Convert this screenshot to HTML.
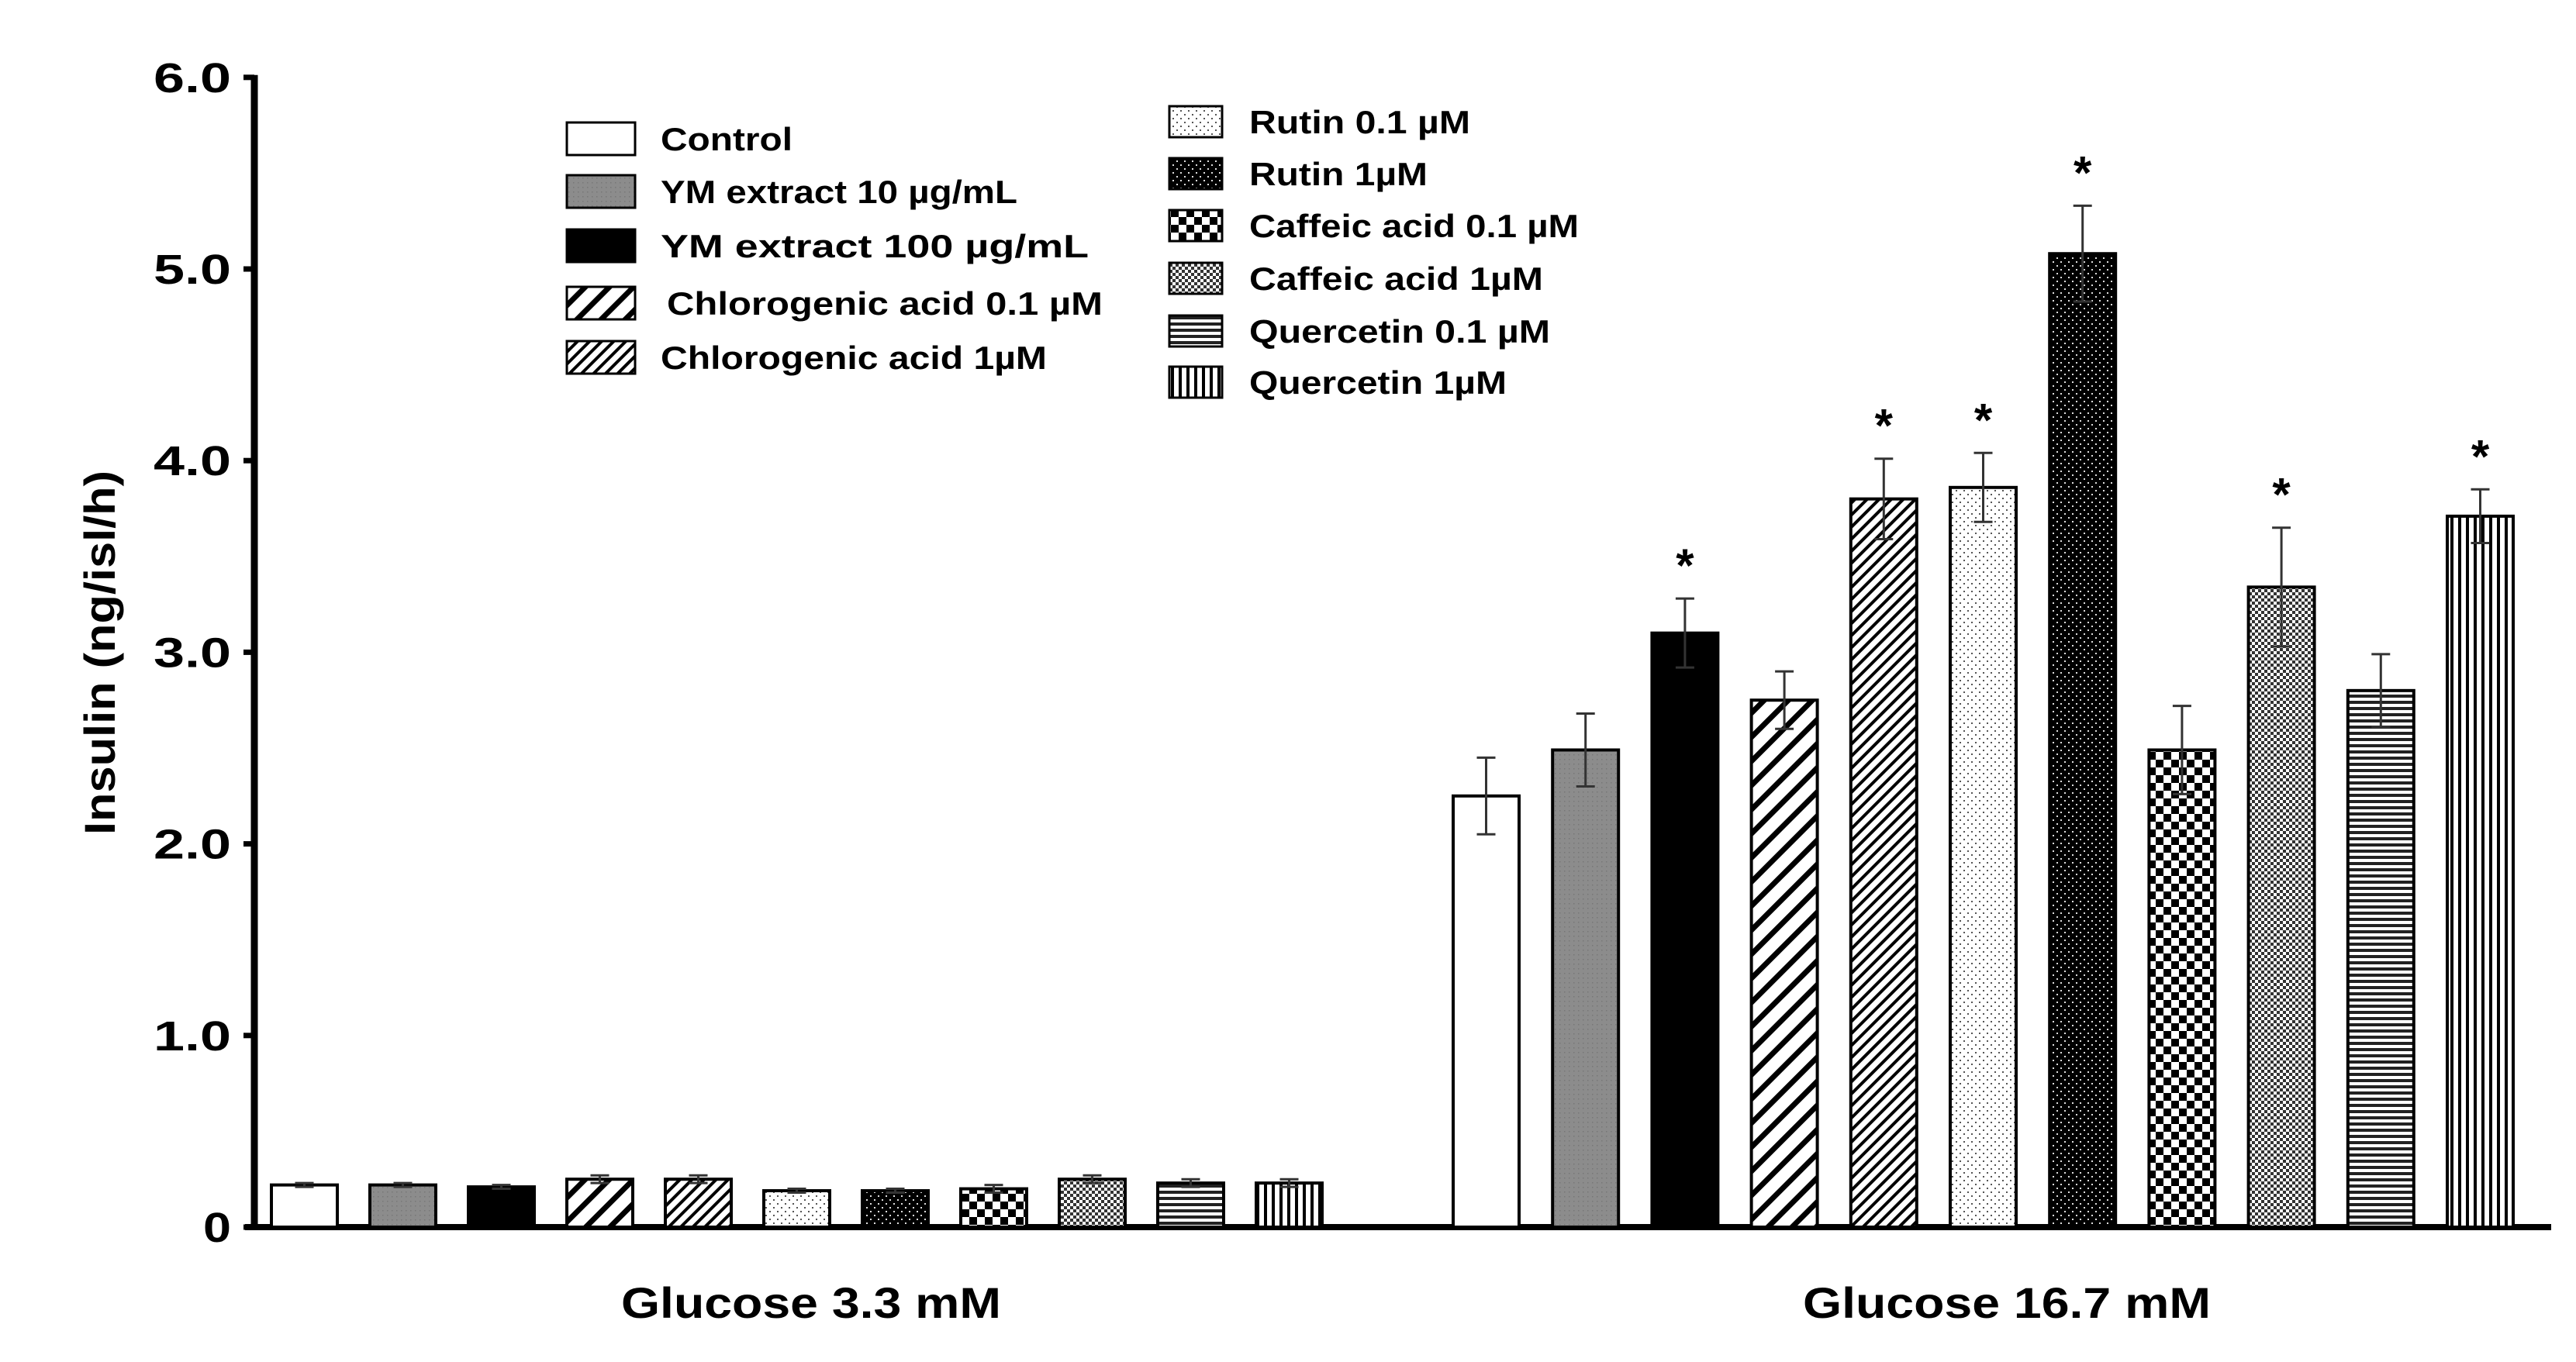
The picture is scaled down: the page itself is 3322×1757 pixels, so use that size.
<!DOCTYPE html>
<html><head><meta charset="utf-8"><style>
html,body{margin:0;padding:0;background:#fff;}
svg{display:block;font-family:"Liberation Sans",Arial,sans-serif;font-weight:bold;}
</style></head><body>
<svg id="chart" width="3322" height="1757" viewBox="0 0 3322 1757">
<defs>
<pattern id="p0" width="10" height="10" patternUnits="userSpaceOnUse"><rect width="10" height="10" fill="#fff"/></pattern>
<pattern id="p1" width="6" height="6" patternUnits="userSpaceOnUse"><rect width="6" height="6" fill="#8c8c8c"/><rect x="1" y="1" width="1.5" height="1.5" fill="#777"/></pattern>
<pattern id="p2" width="10" height="10" patternUnits="userSpaceOnUse"><rect width="10" height="10" fill="#000"/></pattern>
<pattern id="p3" width="22" height="22" patternUnits="userSpaceOnUse" patternTransform="rotate(45)"><rect width="22" height="22" fill="#fff"/><rect width="7" height="22" fill="#000"/></pattern>
<pattern id="p4" width="11" height="11" patternUnits="userSpaceOnUse" patternTransform="rotate(45)"><rect width="11" height="11" fill="#fff"/><rect width="4" height="11" fill="#000"/></pattern>
<pattern id="p5" width="10" height="10" patternUnits="userSpaceOnUse"><rect width="10" height="10" fill="#fff"/><rect x="2" y="2" width="2" height="2" fill="#555"/><rect x="7" y="7" width="2" height="2" fill="#555"/></pattern>
<pattern id="p6" width="10" height="10" patternUnits="userSpaceOnUse"><rect width="10" height="10" fill="#000"/><rect x="2" y="2" width="2" height="2" fill="#ddd"/><rect x="7" y="7" width="2" height="2" fill="#ddd"/></pattern>
<pattern id="p7" width="20" height="20" patternUnits="userSpaceOnUse"><rect width="20" height="20" fill="#fff"/><rect width="10" height="10" fill="#000"/><rect x="10" y="10" width="10" height="10" fill="#000"/></pattern>
<pattern id="p8" width="8" height="8" patternUnits="userSpaceOnUse"><rect width="8" height="8" fill="#fff"/><rect width="4" height="4" fill="#333"/><rect x="4" y="4" width="4" height="4" fill="#333"/></pattern>
<pattern id="p9" width="8" height="8" patternUnits="userSpaceOnUse"><rect width="8" height="8" fill="#fff"/><rect width="8" height="4" fill="#222"/></pattern>
<pattern id="p10" width="10" height="10" patternUnits="userSpaceOnUse"><rect width="10" height="10" fill="#fff"/><rect width="4" height="10" fill="#000"/></pattern>
</defs>
<g id="axes"></g>
<g id="bars"></g>
<g id="legend"></g>
</svg>
<script>
const categories = ["Control","YM extract 10 µg/mL","YM extract 100 µg/mL","Chlorogenic acid  0.1 µM","Chlorogenic acid 1µM","Rutin 0.1 µM","Rutin 1µM","Caffeic acid 0.1 µM","Caffeic acid 1µM","Quercetin 0.1 µM","Quercetin 1µM"];
const groups = ["Glucose 3.3 mM","Glucose 16.7 mM"];
const lowValues = [0.22,0.22,0.21,0.25,0.25,0.19,0.19,0.20,0.25,0.23,0.23];
const lowErrors = [0.01,0.01,0.01,0.02,0.02,0.01,0.01,0.02,0.02,0.02,0.02];
const highValues = [2.25,2.49,3.10,2.75,3.80,3.86,5.08,2.49,3.34,2.80,3.71];
const highErrors = [0.20,0.19,0.18,0.15,0.21,0.18,0.25,0.23,0.31,0.19,0.14];
const highSig = [false,false,true,false,true,true,true,false,true,false,true];
const yTicks = [0,1,2,3,4,5,6];
const yTickLabels = ["0","1.0","2.0","3.0","4.0","5.0","6.0"];

const NS="http://www.w3.org/2000/svg";
const X0=328, Y0=1583, PX=247.2;
function y(v){return Y0 - v*PX;}
const groupStart=[350,1874], step=[127,128.2], bw=85;
function xBar(g,i){return groupStart[g]+i*step[g];}
function mk(tag,attrs,parent){const e=document.createElementNS(NS,tag);for(const k in attrs)e.setAttribute(k,attrs[k]);parent.appendChild(e);return e;}

const axes=document.getElementById('axes');
let el=mk('line',{x1:X0,y1:y(6)-3,x2:X0,y2:Y0+4,stroke:'#000','stroke-width':9},axes);


el=mk('line',{x1:316,y1:Y0,x2:3290,y2:Y0,stroke:'#000','stroke-width':8},axes);


yTicks.forEach((t,i)=>{
  const tk=mk('line',{x1:314,y1:y(t),x2:X0,y2:y(t),stroke:'#000','stroke-width':7},axes);
  
  
  const tl=mk('text',{x:298,y:y(t)+19,'text-anchor':'end','font-size':54,textLength:(t===0?36:100),lengthAdjust:'spacingAndGlyphs'},axes);
  tl.textContent=yTickLabels[i];
  
  
});
el=mk('text',{x:0,y:0,'text-anchor':'middle','font-size':56,textLength:470,lengthAdjust:'spacingAndGlyphs',transform:'translate(148,842) rotate(-90)'},axes);
el.textContent='Insulin  (ng/isl/h)';


[[1046,490],[2588,526]].forEach((p,g)=>{
  const t=mk('text',{x:p[0],y:1700,'text-anchor':'middle','font-size':56,textLength:p[1],lengthAdjust:'spacingAndGlyphs'},axes);
  t.textContent=groups[g];
  
  
});

const bars=document.getElementById('bars');
function drawGroup(g,vals,errs,sig){
  vals.forEach((v,i)=>{
    const x=xBar(g,i);
    const r=mk('rect',{x:x,y:y(v),width:bw,height:Y0-y(v),fill:'url(#p'+i+')',stroke:'#000','stroke-width':4},bars);
    
    
    const cx=x+bw/2, e=errs[i];
    const eb=mk('path',{d:`M${cx} ${y(v-e)}V${y(v+e)}M${cx-12} ${y(v+e)}H${cx+12}M${cx-12} ${y(v-e)}H${cx+12}`,stroke:'#333','stroke-width':3,fill:'none'},bars);
    
    
    if(sig&&sig[i]){
      const s=mk('text',{x:cx,y:y(v+e)-22,'text-anchor':'middle','font-size':60},bars);
      s.textContent='*';
      
      
    }
  });
}
drawGroup(0,lowValues,lowErrors,null);
drawGroup(1,highValues,highErrors,highSig);

const lg=document.getElementById('legend');
const legL=[158,226,296,370,440], legR=[137,204,271,339,407,473];
const legW=[170,460,552,562,498,285,230,425,379,388,332];
categories.forEach((c,i)=>{
  const left=i<5;
  const bx=left?731:1508, by=left?legL[i]:legR[i-5], bh=left?42:40, bwid=left?88:68;
  const b=mk('rect',{x:bx,y:by,width:bwid,height:bh,fill:'url(#p'+i+')',stroke:'#000','stroke-width':3},lg);
  
  
  const t=mk('text',{x:left?(i==3?860:852):1611,y:by+bh/2+15,'font-size':42,textLength:legW[i],lengthAdjust:'spacingAndGlyphs'},lg);
  t.textContent=c;
  
  
});
</script>
</body></html>
